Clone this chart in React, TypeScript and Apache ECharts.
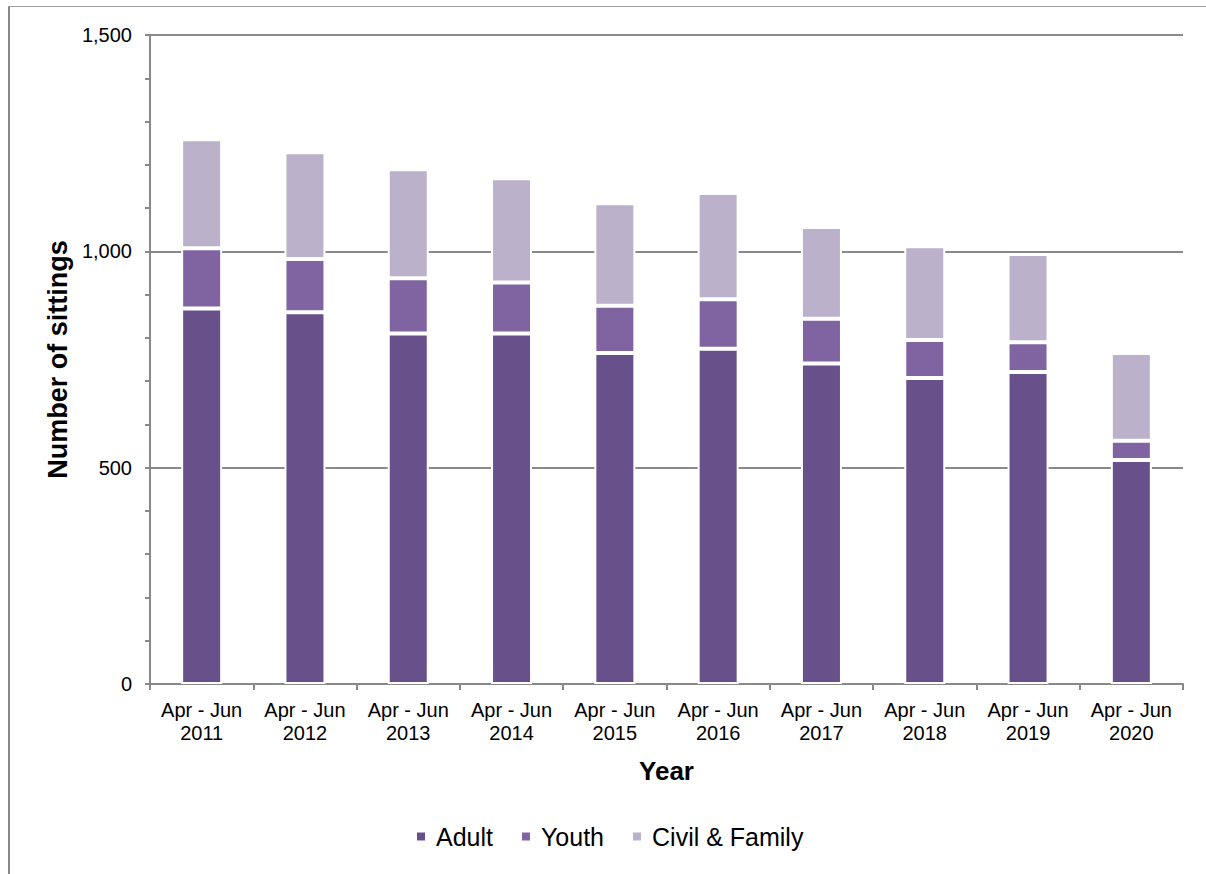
import React, { useEffect, useRef } from "react";
import * as echarts from "echarts";

const categories = [
  "Apr - Jun\n2011", "Apr - Jun\n2012", "Apr - Jun\n2013", "Apr - Jun\n2014", "Apr - Jun\n2015",
  "Apr - Jun\n2016", "Apr - Jun\n2017", "Apr - Jun\n2018", "Apr - Jun\n2019", "Apr - Jun\n2020",
];
const adult = [868, 859, 810, 810, 765, 775, 741, 707, 721, 518];
const youth = [139, 123, 128, 118, 109, 114, 103, 88, 69, 44];
const civilFamily = [252, 247, 252, 241, 237, 246, 212, 217, 204, 203];

const FONT = "'Liberation Sans', Arial, sans-serif";
const GREY = "#898989";

export default function App() {
  const ref = useRef<HTMLDivElement>(null);
  useEffect(() => {
    if (!ref.current) return;
    const chart = echarts.init(ref.current, undefined, { renderer: "svg" });
    const barStyle = (color: string) => ({ color, borderColor: "#ffffff", borderWidth: 2 });
    chart.setOption({
      animation: false,
      backgroundColor: "#ffffff",
      textStyle: { fontFamily: FONT },
      grid: { left: 150, right: 23, top: 35, bottom: 190, containLabel: false },
      graphic: [
        { type: "line", shape: { x1: 9, y1: 6, x2: 9, y2: 874 }, style: { stroke: GREY, lineWidth: 2 } },
        { type: "line", shape: { x1: 8, y1: 6.5, x2: 1206, y2: 6.5 }, style: { stroke: "#a0a0a0", lineWidth: 1 } },
      ],
      legend: {
        left: 415,
        top: 824,
        padding: 0,
        itemWidth: 10,
        itemHeight: 10,
        itemGap: 27,
        icon: "rect",
        textStyle: { fontSize: 25, color: "#000", fontFamily: FONT, padding: [0, 0, 0, 5] },
        data: ["Adult", "Youth", "Civil & Family"],
      },
      xAxis: {
        type: "category",
        data: categories,
        name: "Year",
        nameLocation: "middle",
        nameGap: 74,
        nameTextStyle: { fontSize: 26, fontWeight: "bold", color: "#000", fontFamily: FONT },
        axisLine: { show: true, lineStyle: { color: GREY, width: 2 } },
        axisTick: { show: true, length: 6, alignWithLabel: false, lineStyle: { color: GREY, width: 2 } },
        axisLabel: { fontSize: 20, color: "#000", lineHeight: 23, margin: 14, interval: 0, fontFamily: FONT },
      },
      yAxis: {
        type: "value",
        min: 0,
        max: 1500,
        interval: 500,
        name: "Number of sittings",
        nameLocation: "middle",
        nameGap: 76,
        nameTextStyle: { fontSize: 27, fontWeight: "bold", color: "#000", fontFamily: FONT },
        axisLine: { show: true, lineStyle: { color: GREY, width: 2 } },
        axisTick: { show: true, length: 5, lineStyle: { color: GREY, width: 2 } },
        minorTick: { show: true, splitNumber: 5, length: 5, lineStyle: { color: GREY, width: 2 } },
        splitLine: { show: true, lineStyle: { color: GREY, width: 2 } },
        axisLabel: {
          fontSize: 20,
          color: "#000",
          margin: 18,
          fontFamily: FONT,
          formatter: (v: number) => v.toLocaleString("en-US"),
        },
      },
      series: [
        { name: "Adult", type: "bar", stack: "total", barWidth: 41, data: adult, itemStyle: barStyle("#68508A") },
        { name: "Youth", type: "bar", stack: "total", barWidth: 41, data: youth, itemStyle: barStyle("#8064A2") },
        { name: "Civil & Family", type: "bar", stack: "total", barWidth: 41, data: civilFamily, itemStyle: barStyle("#BBB1CB") },
      ],
    });
    return () => chart.dispose();
  }, []);
  return <div ref={ref} style={{ position: "absolute", left: 0, top: 0, width: 1206, height: 874 }} />;
}
